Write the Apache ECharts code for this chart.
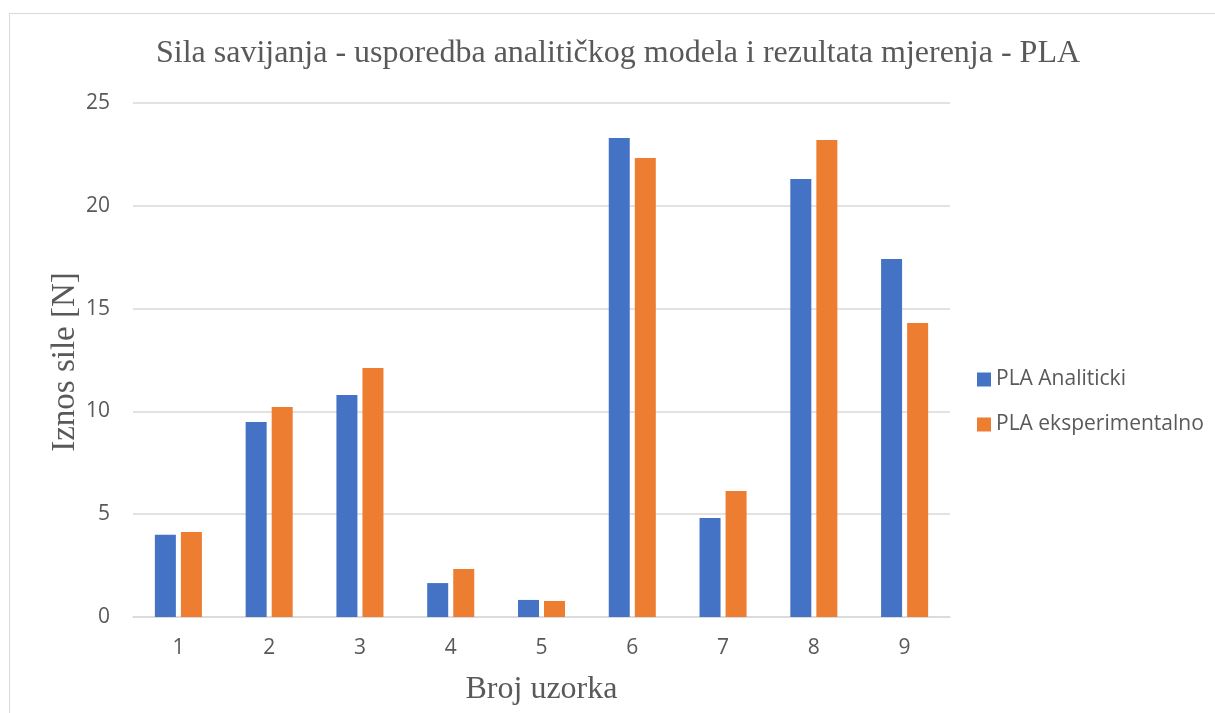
<!DOCTYPE html>
<html>
<head>
<meta charset="utf-8">
<script src="https://cdn.jsdelivr.net/npm/echarts@6/dist/echarts.min.js"></script>
<style>
  html, body { margin: 0; padding: 0; background: #fff; }
  #frame { position: absolute; left: 9px; top: 13px; width: 1215px; height: 713px; border-left: 1px solid #d9d9d9; border-top: 1px solid #d9d9d9; }
  #chart { position: absolute; left: 0; top: 0; width: 1215px; height: 713px; }
</style>
</head>
<body>
<div id="frame"></div>
<div id="chart"></div>
<script>
const categories = ['1', '2', '3', '4', '5', '6', '7', '8', '9'];
const analiticki = [4.0, 9.48, 10.8, 1.65, 0.83, 23.3, 4.82, 21.3, 17.41];
const eksperimentalno = [4.13, 10.21, 12.11, 2.33, 0.78, 22.32, 6.13, 23.2, 14.3];
const seriesNames = ['PLA Analiticki', 'PLA eksperimentalno'];
const yTicks = { min: 0, max: 25, interval: 5 };
const yAxisTitle = 'Iznos sile [N]';

const chart = echarts.init(document.getElementById('chart'), null, { renderer: 'canvas' });
const serif = '"Liberation Serif", "Times New Roman", serif';
const sans = '"Open Sans", "Noto Sans", sans-serif';

chart.setOption({
  animation: false,
  title: {
    text: 'Sila savijanja - usporedba analitičkog modela i rezultata mjerenja - PLA',
    left: 613, top: 33, textAlign: 'center',
    textStyle: { fontFamily: serif, fontSize: 32, fontWeight: 'normal', color: '#595959' }
  },
  legend: {
    orient: 'vertical', left: 972, top: 364, itemGap: 24,
    itemWidth: 14, itemHeight: 14, icon: 'rect',
    textStyle: { fontFamily: sans, fontSize: 21, lineHeight: 21, color: '#595959' },
    data: seriesNames
  },
  // vertical axis title, rotated to read bottom-to-top
  graphic: [{
    type: 'text', x: 65, y: 362, rotation: Math.PI / 2,
    style: {
      text: yAxisTitle, font: '33px ' + serif, fill: '#595959',
      align: 'center', verticalAlign: 'middle'
    }
  }],
  grid: { left: 133, right: 265, top: 103, bottom: 96, containLabel: false },
  xAxis: {
    type: 'category', data: categories,
    name: 'Broj uzorka', nameLocation: 'middle', nameGap: 57, nameMoveOverlap: false,
    nameTextStyle: { fontFamily: serif, fontSize: 32, color: '#595959' },
    axisLine: { show: true, lineStyle: { color: '#d9d9d9', width: 1.5 } },
    axisTick: { show: false },
    axisLabel: { fontFamily: sans, fontSize: 21, color: '#595959', margin: 21 }
  },
  yAxis: {
    type: 'value', min: yTicks.min, max: yTicks.max, interval: yTicks.interval,
    axisLine: { show: false }, axisTick: { show: false },
    axisLabel: { fontFamily: sans, fontSize: 21, color: '#595959', margin: 23 },
    splitLine: { lineStyle: { color: '#d9d9d9', width: 1.5 } }
  },
  series: [
    {
      name: seriesNames[0], type: 'bar', data: analiticki,
      barWidth: 21, barGap: '24%', barCategoryGap: '48%',
      itemStyle: { color: '#4472c4' }
    },
    {
      name: seriesNames[1], type: 'bar', data: eksperimentalno,
      barWidth: 21, barGap: '24%', barCategoryGap: '48%',
      itemStyle: { color: '#ed7d31' }
    }
  ]
});
</script>
</body>
</html>
